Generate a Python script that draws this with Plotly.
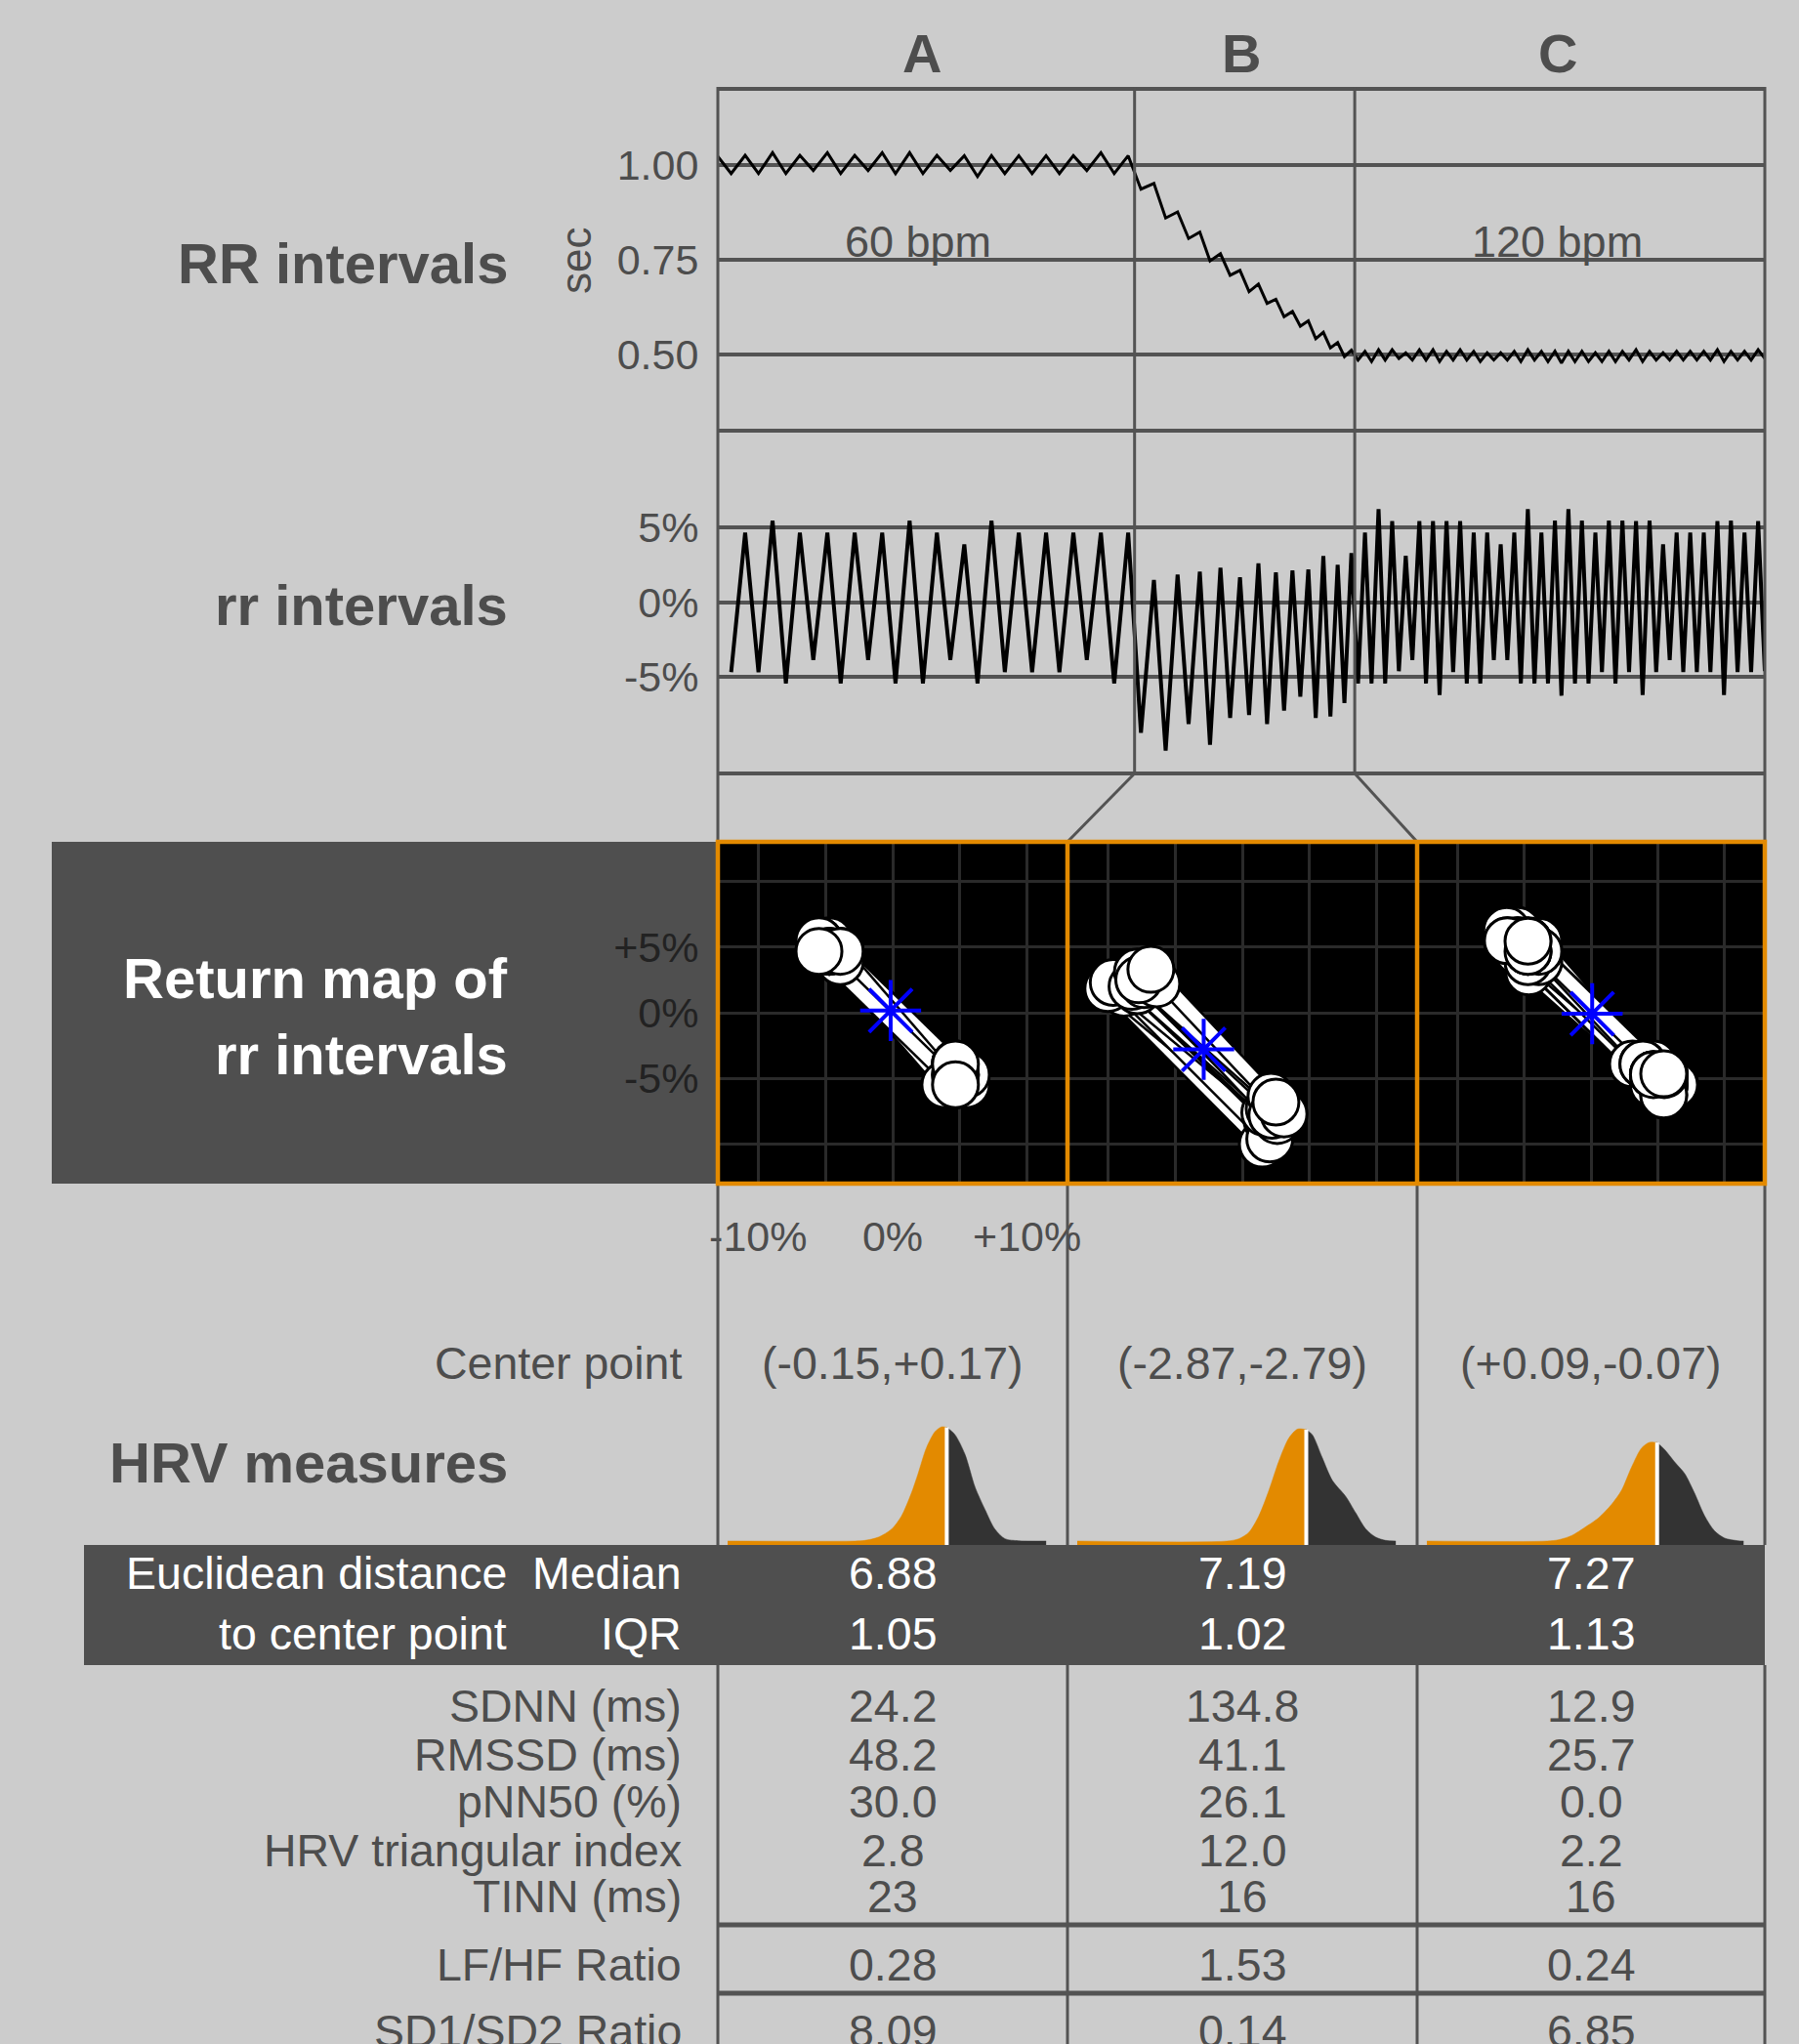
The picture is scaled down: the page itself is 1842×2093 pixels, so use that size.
import numpy as np
import plotly.graph_objects as go

W, H = 1842, 2093
FONT = "Liberation Sans, Arial, Helvetica, sans-serif"
BG = "#cccccc"
TXT = "#4d4d4d"
GRID = "#535353"
PANEL = "#4f4f4f"
ORANGE = "#e38a00"
SHADE = "#333333"
MAPGRID = "#2a2a2a"

# ---------------- data ----------------
sections = ["A", "B", "C"]
rates = ["60 bpm", "", "120 bpm"]

# RR intervals (seconds), beat by beat
RR_A = [1.022, 0.977, 1.025, 0.977, 1.032, 0.977, 1.025, 0.985, 1.032, 0.977,
        1.025, 0.985, 1.032, 0.977, 1.032, 0.977, 1.025, 0.985, 1.024, 0.969,
        1.024, 0.977, 1.024, 0.977, 1.024, 0.977, 1.024, 0.985, 1.032, 0.977, 1.024]
RR_B = [0.936, 0.951, 0.860, 0.876, 0.806, 0.823, 0.747, 0.766, 0.709, 0.722,
        0.666, 0.686, 0.635, 0.646, 0.600, 0.614, 0.575, 0.589, 0.542, 0.559,
        0.518, 0.532, 0.495, 0.512]
RR_C = [0.486, 0.509, 0.482, 0.513, 0.486, 0.513, 0.490, 0.505, 0.486, 0.513,
        0.486, 0.513, 0.482, 0.509, 0.486, 0.513, 0.486, 0.509, 0.482, 0.505,
        0.486, 0.505, 0.486, 0.509, 0.482, 0.513, 0.486, 0.509, 0.482, 0.509,
        0.478, 0.509, 0.482, 0.509, 0.482, 0.505, 0.482, 0.509, 0.482, 0.509,
        0.486, 0.513, 0.482, 0.509, 0.486, 0.505, 0.486, 0.509, 0.486, 0.509,
        0.486, 0.509, 0.486, 0.513, 0.482, 0.509, 0.486, 0.509, 0.486, 0.513, 0.490]

# relative successive differences (percent), one per beat after the first
rr_A = [-4.71, 4.67, -4.71, 5.48, -5.48, 4.67, -3.90, 4.67, -5.48, 4.67,
        -3.90, 4.67, -5.48, 5.48, -5.48, 4.67, -3.90, 3.88, -5.48, 5.48,
        -4.71, 4.67, -4.71, 4.67, -4.71, 4.67, -3.90, 4.67, -5.48, 4.67]
rr_B = [-8.80, 1.49, -10.00, 1.84, -8.20, 2.04, -9.60, 2.30, -7.80, 1.67,
        -7.60, 2.60, -8.20, 2.00, -7.30, 2.13, -6.36, 2.20, -7.80, 3.10,
        -7.70, 2.50, -6.80, 3.30]
rr_C = [-5.48, 4.67, -5.48, 6.25, -5.48, 5.44, -4.65, 3.11, -3.90, 5.44,
        -5.48, 5.44, -6.25, 5.44, -4.71, 5.44, -5.48, 4.67, -5.48, 4.67,
        -3.90, 3.88, -3.90, 4.67, -5.48, 6.25, -5.48, 4.67, -5.48, 5.48,
        -6.30, 6.25, -5.48, 5.48, -5.48, 4.67, -4.71, 5.48, -5.48, 5.48,
        -4.71, 5.44, -6.25, 5.48, -4.71, 3.88, -3.90, 4.67, -4.71, 4.67,
        -4.71, 4.67, -4.71, 5.44, -6.25, 5.48, -4.71, 4.67, -4.71, 5.44, -4.65]

# center point of each return map (percent)
center_x = [-0.15, -2.87, 0.09]
center_y = [0.17, -2.79, -0.07]

# density of Euclidean distance to the center point (relative height)
dens_A_x = [0, 4.0, 4.31, 4.73, 5.15, 5.46, 5.77, 5.98, 6.24, 6.51, 6.72, 6.88,
            7.14, 7.45, 7.77, 8.08, 8.39, 8.71, 9.13, 10.0]
dens_A_h = [0, 0, 0.006, 0.034, 0.105, 0.22, 0.42, 0.59, 0.815, 0.957, 1.0, 0.995,
            0.93, 0.76, 0.47, 0.276, 0.105, 0.02, 0.003, 0]
dens_B_x = [0, 4.7, 5.07, 5.39, 5.70, 6.02, 6.33, 6.64, 6.92, 7.19, 7.38, 7.69,
            8.01, 8.43, 8.74, 9.06, 9.37, 9.68, 10.0]
dens_B_h = [0, 0, 0.02, 0.077, 0.22, 0.446, 0.70, 0.90, 0.98, 0.975, 0.93, 0.73,
            0.53, 0.39, 0.247, 0.105, 0.034, 0.006, 0]
dens_C_x = [0, 3.8, 4.15, 4.57, 4.99, 5.41, 5.83, 6.15, 6.46, 6.78, 7.03, 7.27,
            7.51, 7.83, 8.14, 8.45, 8.77, 9.08, 9.40, 9.82, 10.0]
dens_C_h = [0, 0, 0.011, 0.048, 0.12, 0.20, 0.32, 0.446, 0.645, 0.815, 0.864, 0.862,
            0.80, 0.69, 0.59, 0.42, 0.22, 0.09, 0.026, 0.003, 0]

ed_median = [6.88, 7.19, 7.27]
ed_iqr = [1.05, 1.02, 1.13]
sdnn = [24.2, 134.8, 12.9]
rmssd = [48.2, 41.1, 25.7]
pnn50 = [30.0, 26.1, 0.0]
tri_index = [2.8, 12.0, 2.2]
tinn = [23, 16, 16]
lf_hf = [0.28, 1.53, 0.24]
sd1_sd2 = [8.09, 0.14, 6.85]


# ---------------- helpers ----------------
def fx(p):
    return p / W


def fy(p):
    return 1 - p / H


COLS = [735, 1093, 1451, 1807]
COL_MID = [(COLS[i] + COLS[i + 1]) / 2 for i in range(3)]
TOP_L, TOP_R = 735, 1807

RR = np.array(RR_A + RR_B + RR_C)
t = np.concatenate([[0.0], np.cumsum(RR[1:])])
rr = rr_A + rr_B + rr_C
T_END = float(t[-1])
nA, nB = len(RR_A), len(RR_B)
bound1 = (t[nA - 1] + t[nA]) / 2
bound2 = (t[nA + nB - 1] + t[nA + nB]) / 2


def t_to_px(tt):
    return TOP_L + tt / T_END * (TOP_R - TOP_L)


fig = go.Figure()
skip = dict(hoverinfo="skip", showlegend=False)

# RR series
fig.add_trace(go.Scatter(x=t, y=RR, mode="lines", line=dict(color="black", width=3),
                         xaxis="x", yaxis="y", **skip))
# rr series
fig.add_trace(go.Scatter(x=t[1:], y=rr, mode="lines", line=dict(color="black", width=4),
                         xaxis="x2", yaxis="y2", **skip))

# return maps
for j, vals in enumerate([rr_A, rr_B, rr_C]):
    xa, ya = f"x{3 + j}", f"y{3 + j}"
    mx, my = vals[:-1], vals[1:]
    for k in range(len(mx) - 1):
        sx, sy = [mx[k], mx[k + 1]], [my[k], my[k + 1]]
        fig.add_trace(go.Scatter(x=sx, y=sy, mode="lines", line=dict(color="black", width=17),
                                 xaxis=xa, yaxis=ya, **skip))
        fig.add_trace(go.Scatter(x=sx, y=sy, mode="lines", line=dict(color="white", width=12),
                                 xaxis=xa, yaxis=ya, **skip))
    fig.add_trace(go.Scatter(x=mx, y=my, mode="markers",
                             marker=dict(size=47, color="white", line=dict(color="black", width=3)),
                             xaxis=xa, yaxis=ya, **skip))
    fig.add_trace(go.Scatter(x=[center_x[j]], y=[center_y[j]], mode="markers",
                             marker=dict(symbol="asterisk-open", size=52, color="blue",
                                         line=dict(color="blue", width=4)),
                             xaxis=xa, yaxis=ya, **skip))

# density of distances, split at the median
Y_FLOOR = -0.034
for j, (xs, hs) in enumerate([(dens_A_x, dens_A_h), (dens_B_x, dens_B_h), (dens_C_x, dens_C_h)]):
    xa, ya = f"x{6 + j}", f"y{6 + j}"
    med = ed_median[j]
    left = [(a, b) for a, b in zip(xs, hs) if a <= med]
    right = [(a, b) for a, b in zip(xs, hs) if a >= med]
    for part, col in ((left, ORANGE), (right, SHADE)):
        px_, ph = zip(*part)
        fig.add_trace(go.Scatter(x=[px_[0], px_[-1]], y=[Y_FLOOR, Y_FLOOR], mode="lines",
                                 line=dict(width=0, color=col), xaxis=xa, yaxis=ya, **skip))
        fig.add_trace(go.Scatter(x=list(px_), y=list(ph), mode="lines",
                                 line=dict(width=0.5, color=col, shape="spline", smoothing=0.8),
                                 fill="tonexty", fillcolor=col, xaxis=xa, yaxis=ya, **skip))
    h_med = dict(zip(xs, hs))[med]
    fig.add_trace(go.Scatter(x=[med, med], y=[Y_FLOOR, h_med], mode="lines",
                             line=dict(color="white", width=4), xaxis=xa, yaxis=ya, **skip))

# ---------------- axes ----------------
TICK = 43
tickfont = dict(family=FONT, size=TICK, color=TXT)
hidden = dict(visible=False, fixedrange=True, automargin=False)
layout = dict(
    template="none",
    width=W, height=H, autosize=False,
    margin=dict(l=0, r=0, t=0, b=0, pad=0, autoexpand=False),
    paper_bgcolor=BG, plot_bgcolor="rgba(0,0,0,0)", showlegend=False,
    font=dict(family=FONT, color=TXT),
    xaxis=dict(domain=[fx(TOP_L), fx(TOP_R)], range=[0, T_END], anchor="y", **hidden),
    yaxis=dict(domain=[fy(441), fy(91)], range=[0.3, 1.2], anchor="x",
               tickvals=[0.5, 0.75, 1.0], ticktext=["0.50", "0.75", "1.00"],
               showgrid=True, gridcolor=GRID, gridwidth=4, zeroline=False, showline=False,
               ticks="outside", ticklen=10, tickcolor="rgba(0,0,0,0)", tickfont=tickfont,
               fixedrange=True, automargin=False),
    xaxis2=dict(domain=[fx(TOP_L), fx(TOP_R)], range=[0, T_END], anchor="y2", **hidden),
    yaxis2=dict(domain=[fy(792), fy(441)], range=[-11.53, 11.53], anchor="x2",
                tickvals=[-5, 0, 5], ticktext=["-5%", "0%", "5%"],
                showgrid=True, gridcolor=GRID, gridwidth=4, zeroline=False, showline=False,
                ticks="outside", ticklen=10, tickcolor="rgba(0,0,0,0)", tickfont=tickfont,
                fixedrange=True, automargin=False),
)
for j in range(3):
    n = 3 + j
    layout[f"xaxis{n}"] = dict(
        domain=[fx(COLS[j]), fx(COLS[j + 1])], range=[-13, 13], anchor=f"y{n}",
        tickvals=[-10, -5, 0, 5, 10], ticktext=["-10%", "", "0%", "", "+10%"],
        showticklabels=(j == 0), showgrid=True, gridcolor=MAPGRID, gridwidth=3,
        zeroline=False, showline=False, ticks="outside", ticklen=16,
        tickcolor="rgba(0,0,0,0)", tickfont=tickfont, fixedrange=True, automargin=False)
    layout[f"yaxis{n}"] = dict(
        domain=[fy(1212), fy(862)], range=[-13, 13], anchor=f"x{n}",
        tickvals=[-10, -5, 0, 5, 10], ticktext=["", "-5%", "0%", "+5%", ""],
        showticklabels=(j == 0), showgrid=True, gridcolor=MAPGRID, gridwidth=3,
        zeroline=False, showline=False, ticks="outside", ticklen=10,
        tickcolor="rgba(0,0,0,0)", tickfont=dict(family=FONT, size=TICK, color="#222222"),
        fixedrange=True, automargin=False)
    m = 6 + j
    layout[f"xaxis{m}"] = dict(domain=[fx(COLS[j]), fx(COLS[j + 1])], range=[-0.307, 10.67],
                               anchor=f"y{m}", **hidden)
    layout[f"yaxis{m}"] = dict(domain=[fy(1582), fy(1450)], range=[Y_FLOOR, 1.094],
                               anchor=f"x{m}", **hidden)

# ---------------- frame shapes ----------------
shapes = []


def hline(y, x0, x1, w=4, color=GRID):
    shapes.append(dict(type="line", xref="paper", yref="paper", x0=fx(x0), x1=fx(x1),
                       y0=fy(y), y1=fy(y), line=dict(color=color, width=w)))


def vline(x, y0, y1, w=3, color=GRID):
    shapes.append(dict(type="line", xref="paper", yref="paper", x0=fx(x), x1=fx(x),
                       y0=fy(y0), y1=fy(y1), line=dict(color=color, width=w)))


def rect(x0, y0, x1, y1, fill, layer="below"):
    shapes.append(dict(type="rect", xref="paper", yref="paper", x0=fx(x0), x1=fx(x1),
                       y0=fy(y1), y1=fy(y0), fillcolor=fill, line=dict(width=0), layer=layer))


rect(53, 862, 735, 1212, PANEL)
rect(735, 862, 1807, 1212, "black")
rect(86, 1582, 1807, 1705, PANEL)

for y in (91, 441, 792):
    hline(y, TOP_L, TOP_R)
vline(TOP_L, 89, 862)
vline(TOP_R, 89, 862)
b1_px, b2_px = t_to_px(bound1), t_to_px(bound2)
vline(b1_px, 89, 792)
vline(b2_px, 89, 792)
shapes.append(dict(type="line", xref="paper", yref="paper", x0=fx(b1_px), y0=fy(792),
                   x1=fx(COLS[1]), y1=fy(862), line=dict(color=GRID, width=3)))
shapes.append(dict(type="line", xref="paper", yref="paper", x0=fx(b2_px), y0=fy(792),
                   x1=fx(COLS[2]), y1=fy(862), line=dict(color=GRID, width=3)))

for x in COLS:
    vline(x, 1212, 1582)
    vline(x, 1705, 2093)
hline(1971, 735, 1807, w=5)
hline(2041, 735, 1807, w=5)

# return-map frame
shapes.append(dict(type="rect", xref="paper", yref="paper", x0=fx(735), x1=fx(1807),
                   y0=fy(1212), y1=fy(862), line=dict(color=ORANGE, width=4.5),
                   fillcolor="rgba(0,0,0,0)", layer="above"))
for x in COLS[1:3]:
    vline(x, 862, 1212, w=4.5, color=ORANGE)

layout["shapes"] = shapes

# ---------------- text ----------------
ann = []


def text(s, x, y, size, color=TXT, anchor="center", bold=False, angle=0):
    if bold:
        s = f"<b>{s}</b>"
    ann.append(dict(text=s, x=fx(x), y=fy(y), xref="paper", yref="paper",
                    xanchor=anchor, yanchor="middle", showarrow=False, textangle=angle,
                    font=dict(family=FONT, size=size, color=color)))


BOLD = 58
REG = 46.5
LAB_R = 522   # right edge of the section titles
ROW_R = 700   # right edge of the row labels

for name, x in zip(sections, [944, 1271, 1595]):
    text(name, x, 54, 56, bold=True)
for lab, x in zip(rates, [940, 1271, 1594]):
    if lab:
        text(lab, x, 247, 45)
text("sec", 589, 267, 44, angle=-90)

text("RR intervals", LAB_R, 270, BOLD, anchor="right", bold=True)
text("rr intervals", LAB_R, 620, BOLD, anchor="right", bold=True)
text("Return map of", LAB_R, 1001, BOLD, color="white", anchor="right", bold=True)
text("rr intervals", LAB_R, 1079, BOLD, color="white", anchor="right", bold=True)
text("HRV measures", LAB_R, 1497, BOLD, anchor="right", bold=True)

text("Center point", ROW_R, 1396, REG, anchor="right")
for j in range(3):
    text(f"({center_x[j]:+.2f},{center_y[j]:+.2f})", COL_MID[j], 1396, REG)

text("Euclidean distance", 521, 1611, REG, color="white", anchor="right")
text("Median", ROW_R, 1611, REG, color="white", anchor="right")
text("to center point", 521, 1673, REG, color="white", anchor="right")
text("IQR", ROW_R, 1673, REG, color="white", anchor="right")
for j in range(3):
    text(f"{ed_median[j]:.2f}", COL_MID[j], 1611, REG, color="white")
    text(f"{ed_iqr[j]:.2f}", COL_MID[j], 1673, REG, color="white")

rows = [
    ("SDNN (ms)", [f"{v:.1f}" for v in sdnn], 1747),
    ("RMSSD (ms)", [f"{v:.1f}" for v in rmssd], 1797),
    ("pNN50 (%)", [f"{v:.1f}" for v in pnn50], 1845),
    ("HRV triangular index", [f"{v:.1f}" for v in tri_index], 1895),
    ("TINN (ms)", [f"{v:d}" for v in tinn], 1942),
    ("LF/HF Ratio", [f"{v:.2f}" for v in lf_hf], 2012),
    ("SD1/SD2 Ratio", [f"{v:.2f}" for v in sd1_sd2], 2080),
]
for label, vals, y in rows:
    text(label, ROW_R, y, REG, anchor="right")
    for j in range(3):
        text(vals[j], COL_MID[j], y, REG)

layout["annotations"] = ann
fig.update_layout(**layout)
fig.write_html("out.html")
